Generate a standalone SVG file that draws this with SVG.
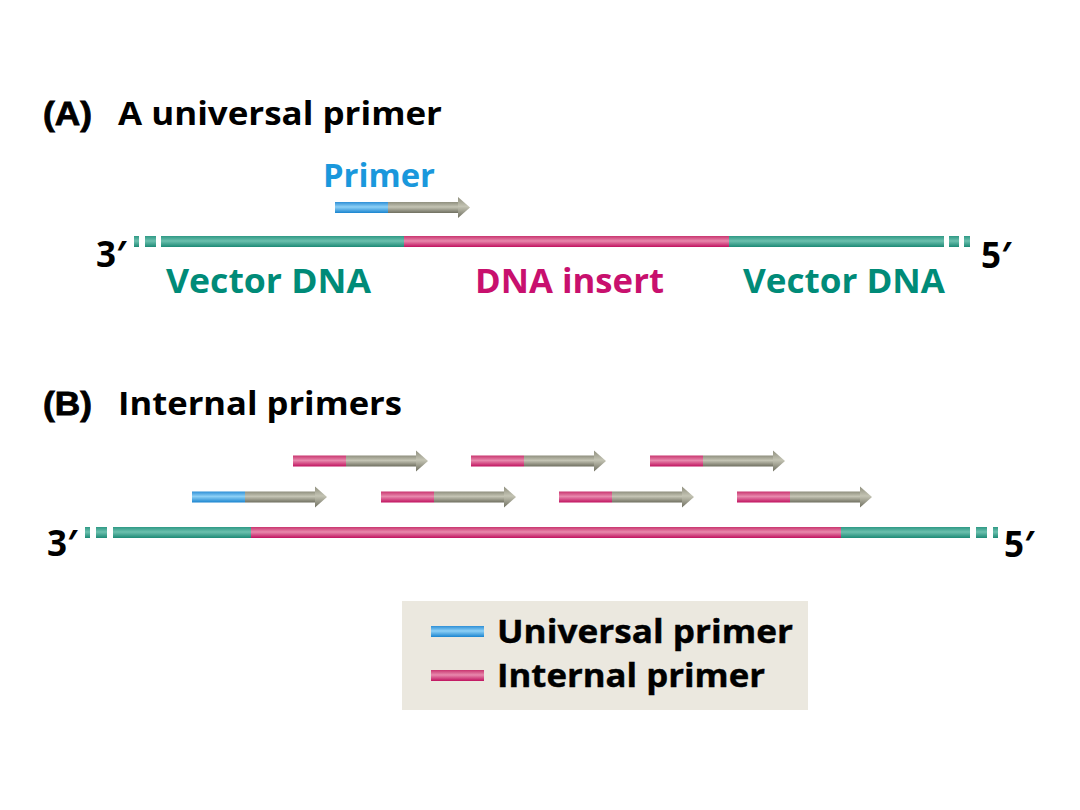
<svg xmlns="http://www.w3.org/2000/svg" width="1080" height="810" viewBox="0 0 1080 810">
<style>
text{font-family:"Open Sans","Liberation Sans",sans-serif;font-weight:700}
.title{font-size:33px;fill:#000}
.tag{font-family:"Liberation Sans",sans-serif;font-size:33px;fill:#000;stroke:#000;stroke-width:0.8}
.end{font-size:35px;fill:#000}
.teal{font-size:34px;fill:#008b78}
.pink{font-size:34px;fill:#c8106e}
.blue{font-size:33px;fill:#1a98dc}
.leg{font-size:32px;fill:#000;stroke:#000;stroke-width:0.4}
.t{fill:url(#gTeal)}
.p{fill:url(#gPink)}
.b{fill:url(#gBlue)}
.g{fill:url(#gGray)}
</style>
<defs>
<linearGradient id="gTeal" x1="0" y1="0" x2="0" y2="1">
<stop offset="0" stop-color="#2f9985"/><stop offset="0.45" stop-color="#6cc0ae"/><stop offset="1" stop-color="#1d8a76"/>
</linearGradient>
<linearGradient id="gPink" x1="0" y1="0" x2="0" y2="1">
<stop offset="0" stop-color="#c9356f"/><stop offset="0.45" stop-color="#e889ad"/><stop offset="1" stop-color="#c0125f"/>
</linearGradient>
<linearGradient id="gBlue" x1="0" y1="0" x2="0" y2="1">
<stop offset="0" stop-color="#2e8fd6"/><stop offset="0.45" stop-color="#8dd0f6"/><stop offset="1" stop-color="#1a84cf"/>
</linearGradient>
<linearGradient id="gGray" x1="0" y1="0" x2="0" y2="1">
<stop offset="0" stop-color="#8f8f7e"/><stop offset="0.45" stop-color="#c4c4b4"/><stop offset="1" stop-color="#6f6f60"/>
</linearGradient>
<g id="arrowTail">
<rect x="53" y="-5.5" width="71" height="11" class="g"/>
<polygon points="123,-10.5 135,0 123,10.5" class="g"/>
</g>
</defs>

<rect width="1080" height="810" fill="#ffffff"/>

<!-- Panel A -->
<g id="titleA">
<text class="tag" x="43" y="125" textLength="49" lengthAdjust="spacingAndGlyphs">(A)</text>
<text class="title" x="118" y="125" textLength="324" lengthAdjust="spacingAndGlyphs">A universal primer</text>
</g>

<g id="strandA">
<rect x="134" y="236" width="5" height="11" class="t"/>
<rect x="145" y="236" width="11" height="11" class="t"/>
<rect x="161" y="236" width="243" height="11" class="t"/>
<rect x="404" y="236" width="325" height="11" class="p"/>
<rect x="729" y="236" width="215" height="11" class="t"/>
<rect x="949" y="236" width="10" height="11" class="t"/>
<rect x="964" y="236" width="6" height="11" class="t"/>
<text class="end" x="96" y="267">3′</text>
<text class="end" x="981" y="268">5′</text>
</g>

<g id="labelsA">
<text class="teal" x="166" y="293" textLength="205" lengthAdjust="spacingAndGlyphs">Vector DNA</text>
<text class="pink" x="475" y="293" textLength="189" lengthAdjust="spacingAndGlyphs">DNA insert</text>
<text class="teal" x="743" y="293" textLength="202" lengthAdjust="spacingAndGlyphs">Vector DNA</text>
</g>

<g id="primerA" transform="translate(335,207.5)">
<text class="blue" x="-12" y="-20.5" textLength="112" lengthAdjust="spacingAndGlyphs">Primer</text>
<rect x="0" y="-5.5" width="53" height="11" class="b"/>
<use href="#arrowTail"/>
</g>

<!-- Panel B -->
<g id="titleB">
<text class="tag" x="43" y="415" textLength="49" lengthAdjust="spacingAndGlyphs">(B)</text>
<text class="title" x="118" y="415" textLength="284" lengthAdjust="spacingAndGlyphs">Internal primers</text>
</g>

<g id="strandB">
<rect x="85" y="527" width="5" height="11" class="t"/>
<rect x="96" y="527" width="11" height="11" class="t"/>
<rect x="113" y="527" width="138" height="11" class="t"/>
<rect x="251" y="527" width="590" height="11" class="p"/>
<rect x="841" y="527" width="129" height="11" class="t"/>
<rect x="976" y="527" width="11" height="11" class="t"/>
<rect x="993" y="527" width="5" height="11" class="t"/>
<text class="end" x="47" y="556">3′</text>
<text class="end" x="1004" y="557">5′</text>
</g>

<g id="primersB">
<g id="pB1" transform="translate(293,461)"><rect x="0" y="-5.5" width="53" height="11" class="p"/><use href="#arrowTail"/></g>
<g id="pB2" transform="translate(471,461)"><rect x="0" y="-5.5" width="53" height="11" class="p"/><use href="#arrowTail"/></g>
<g id="pB3" transform="translate(650,461)"><rect x="0" y="-5.5" width="53" height="11" class="p"/><use href="#arrowTail"/></g>
<g id="pB4" transform="translate(192,497)"><rect x="0" y="-5.5" width="53" height="11" class="b"/><use href="#arrowTail"/></g>
<g id="pB5" transform="translate(381,497)"><rect x="0" y="-5.5" width="53" height="11" class="p"/><use href="#arrowTail"/></g>
<g id="pB6" transform="translate(559,497)"><rect x="0" y="-5.5" width="53" height="11" class="p"/><use href="#arrowTail"/></g>
<g id="pB7" transform="translate(737,497)"><rect x="0" y="-5.5" width="53" height="11" class="p"/><use href="#arrowTail"/></g>
</g>

<!-- Legend -->
<g id="legend">
<rect x="402" y="601" width="406" height="109" fill="#ebe8df"/>
<rect x="431" y="626" width="53" height="11" class="b"/>
<rect x="431" y="670" width="53" height="11" class="p"/>
<text class="leg" x="497" y="643" textLength="296" lengthAdjust="spacingAndGlyphs">Universal primer</text>
<text class="leg" x="497" y="687" textLength="268" lengthAdjust="spacingAndGlyphs">Internal primer</text>
</g>
</svg>
